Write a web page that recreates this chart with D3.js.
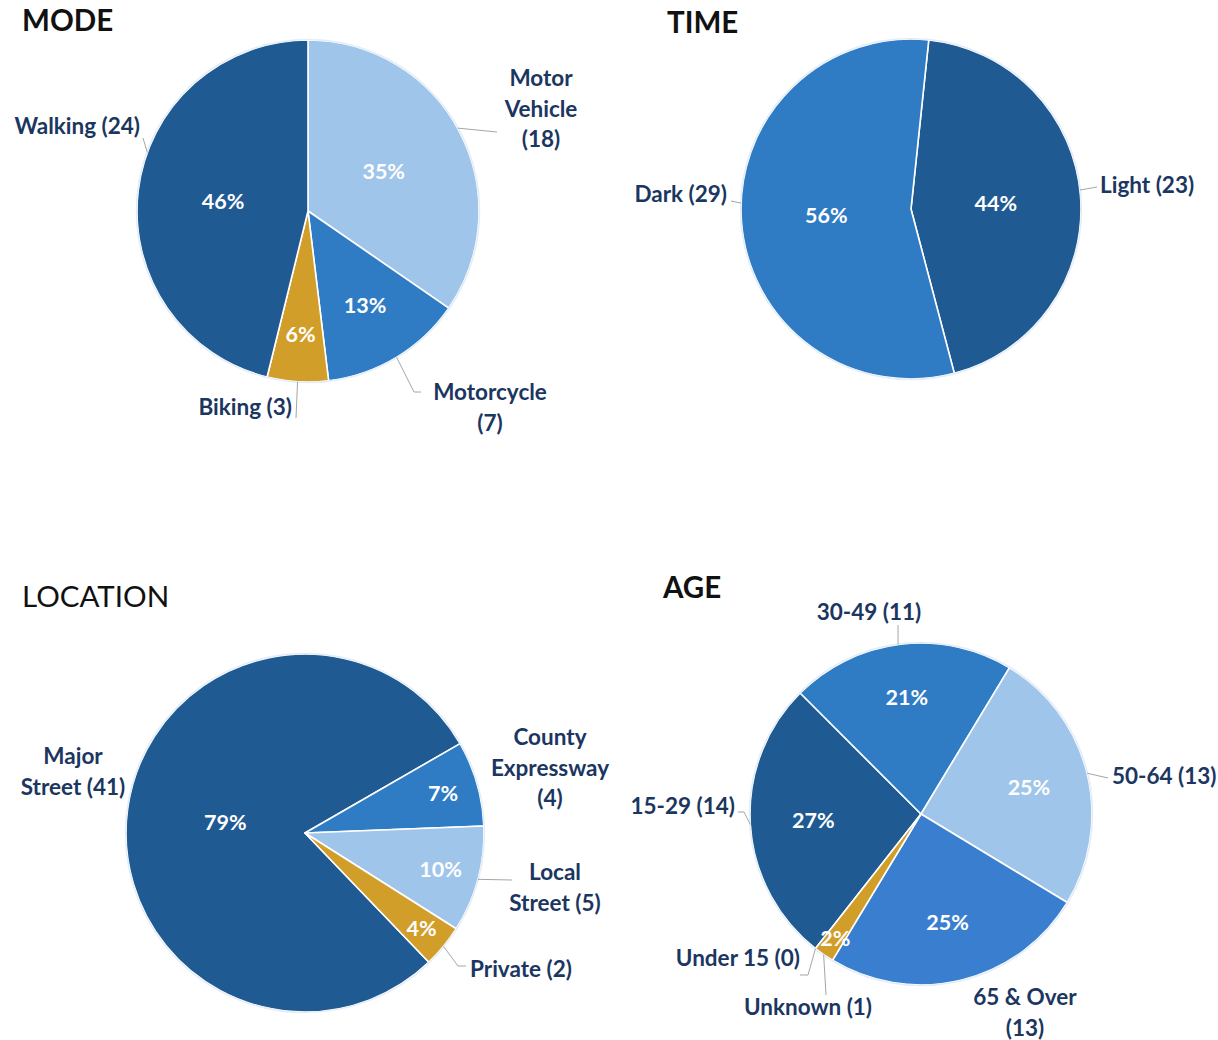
<!DOCTYPE html>
<html>
<head>
<meta charset="utf-8">
<script src="https://cdn.jsdelivr.net/npm/d3@7"></script>
<style>
  html, body { margin: 0; padding: 0; background: #ffffff; }
  svg { display: block; }
</style>
</head>
<body>
<script>
// ---------------- DATA ----------------
const modeCategories = ["Motor Vehicle", "Motorcycle", "Biking", "Walking"];
const modeValues = [18, 7, 3, 24];
const modePercents = ["35%", "13%", "6%", "46%"];
const modeLabels = [["Motor", "Vehicle", "(18)"], ["Motorcycle", "(7)"], ["Biking (3)"], ["Walking (24)"]];

const timeCategories = ["Light", "Dark"];
const timeValues = [23, 29];
const timePercents = ["44%", "56%"];
const timeLabels = [["Light (23)"], ["Dark (29)"]];

const locationCategories = ["Major Street", "County Expressway", "Local Street", "Private"];
const locationValues = [41, 4, 5, 2];
const locationPercents = ["79%", "7%", "10%", "4%"];
const locationLabels = [["Major", "Street (41)"], ["County", "Expressway", "(4)"], ["Local", "Street (5)"], ["Private (2)"]];

const ageCategories = ["Under 15", "15-29", "30-49", "50-64", "65 & Over", "Unknown"];
const ageValues = [0, 14, 11, 13, 13, 1];
const agePercents = ["", "27%", "21%", "25%", "25%", "2%"];
const ageLabels = [["Under 15 (0)"], ["15-29 (14)"], ["30-49 (11)"], ["50-64 (13)"], ["65 & Over", "(13)"], ["Unknown (1)"]];

const chartTitles = ["MODE", "TIME", "LOCATION", "AGE"];

// ---------------- STYLE ----------------
const C_DARK = "#1f5a93", C_MID = "#2f7cc5", C_LIGHT = "#a0c5ea", C_GOLD = "#d29e2a", C_MID2 = "#3a7fcf";
const colorMap = {
  "Motor Vehicle": C_LIGHT, "Motorcycle": C_MID, "Biking": C_GOLD, "Walking": C_DARK,
  "Light": C_DARK, "Dark": C_MID,
  "Major Street": C_DARK, "County Expressway": C_MID, "Local Street": C_LIGHT, "Private": C_GOLD,
  "Under 15": C_GOLD, "15-29": C_DARK, "30-49": C_MID, "50-64": C_LIGHT, "65 & Over": C_MID2, "Unknown": C_GOLD
};
const LABEL_COLOR = "#1b3660";
const FONT = "Lato, 'Open Sans', sans-serif";

// ---------------- LAYOUT (relative to each pie centre) ----------------
// label: [dx, dy, anchor]; leader: edge angle (deg) then list of [dx,dy] points
const charts = [
  { title: chartTitles[0], tx: 22, ty: 31, titleWeight: 700,
    cx: 308, cy: 211, r: 171, start: 0, pctK: 0.78, pctMin: 0.5,
    cats: modeCategories, vals: modeValues, pcts: modePercents, labels: modeLabels,
    labelPos: [[233, -103, "middle"], [182, 196, "middle"], [-16, 195, "end"], [-168, -86, "end"]],
    leaders: [[61, [[189, -79]]], [148.8, [[106, 181], [113, 181]]], [183.5, [[-12, 207]]], [290, [[-165, -73]]]] },
  { title: chartTitles[1], tx: 667, ty: 33, titleWeight: 700,
    cx: 911, cy: 209, r: 170, start: 6, pctK: 0.5, pctMin: 0.5,
    cats: timeCategories, vals: timeValues, pcts: timePercents, labels: timeLabels,
    labelPos: [[189, -25, "start"], [-184, -16, "end"]],
    leaders: [[83.6, [[186, -22]]], [272, [[-180, -8]]]] },
  { title: chartTitles[2], tx: 22, ty: 607, titleWeight: 400,
    cx: 305, cy: 833, r: 179, start: 136.2, pctK: 0.88, pctMin: 0.45,
    cats: locationCategories, vals: locationValues, pcts: locationPercents, labels: locationLabels,
    labelPos: [[-232, -62, "middle"], [245, -66, "middle"], [250, 54, "middle"], [165, 135, "start"]],
    leaders: [null, null, [105, [[207, 47]]], [129.3, [[153, 133], [161, 133]]]] },
  { title: chartTitles[3], tx: 663, ty: 598, titleWeight: 700,
    cx: 921, cy: 814, r: 171, start: 218.1, pctK: 0.9, pctMin: 0.5,
    cats: ageCategories, vals: ageValues, pcts: agePercents, labels: ageLabels,
    labelPos: [[-121, 143, "end"], [-186, -9, "end"], [-52, -203, "middle"], [191, -39, "start"], [104, 198, "middle"], [-113, 192, "middle"]],
    leaders: [[218.1, [[-113, 161], [-121, 161]]], [266.5, [[-177, -2], [-183, -2]]], [352.3, [[-23, -189]]], [76.2, [[187, -36]]], null, [214.7, [[-95, 181]]]] }
];

const W = 1218, H = 1040;
const svg = d3.select("body").append("svg").attr("width", W).attr("height", H);

const rad = d => d * Math.PI / 180;
const LH = 30.5;

charts.forEach(ch => {
  // title
  svg.append("text").attr("x", ch.tx).attr("y", ch.ty)
    .attr("font-family", FONT).attr("font-size", 29.5).attr("font-weight", ch.titleWeight)
    .attr("fill", "#111").text(ch.title);

  const g = svg.append("g").attr("transform", `translate(${ch.cx},${ch.cy})`);
  const data = ch.cats.map((c, i) => ({ cat: c, value: ch.vals[i], pct: ch.pcts[i], label: ch.labels[i], i }));
  const total = d3.sum(ch.vals);
  const pie = d3.pie().value(d => d.value).sort(null)
    .startAngle(rad(ch.start)).endAngle(rad(ch.start) + 2 * Math.PI);
  const arcs = pie(data);
  const arc = d3.arc().innerRadius(0).outerRadius(ch.r);

  g.selectAll("path.slice").data(arcs).enter().append("path")
    .attr("class", "slice")
    .attr("d", arc)
    .attr("fill", d => colorMap[d.data.cat])
    .attr("stroke", "#ffffff").attr("stroke-width", 1.6).attr("stroke-linejoin", "round");

  // outer soft border
  g.append("circle").attr("r", ch.r + 0.5).attr("fill", "none")
    .attr("stroke", "#e4edf7").attr("stroke-width", 1.5);

  // percent labels
  g.selectAll("text.pct").data(arcs.filter(d => d.data.value > 0)).enter().append("text")
    .attr("class", "pct")
    .attr("transform", d => {
      const p = d.data.value / total;
      const f = Math.max(ch.pctMin, ch.pctK - p);
      const a = (d.startAngle + d.endAngle) / 2;
      return `translate(${Math.sin(a) * ch.r * f},${-Math.cos(a) * ch.r * f})`;
    })
    .attr("text-anchor", "middle").attr("dominant-baseline", "central")
    .attr("font-family", FONT).attr("font-size", 21.5).attr("font-weight", 700)
    .attr("fill", "#ffffff")
    .text(d => d.data.pct);

  // leader lines
  ch.leaders.forEach(ld => {
    if (!ld) return;
    const a = rad(ld[0]);
    const pts = [[Math.sin(a) * ch.r, -Math.cos(a) * ch.r]].concat(ld[1]);
    g.append("path").attr("d", d3.line()(pts))
      .attr("fill", "none").attr("stroke", "#a6a6a6").attr("stroke-width", 1);
  });

  // category labels
  data.forEach((d, i) => {
    const lp = ch.labelPos[i];
    const n = d.label.length;
    const t = g.append("text")
      .attr("font-family", FONT).attr("font-size", 22.5).attr("font-weight", 700)
      .attr("fill", LABEL_COLOR).attr("text-anchor", lp[2]);
    d.label.forEach((line, k) => {
      t.append("tspan").attr("x", lp[0]).attr("y", lp[1] + (k - (n - 1) / 2) * LH)
        .attr("dominant-baseline", "central").text(line);
    });
  });
});
</script>
</body>
</html>
